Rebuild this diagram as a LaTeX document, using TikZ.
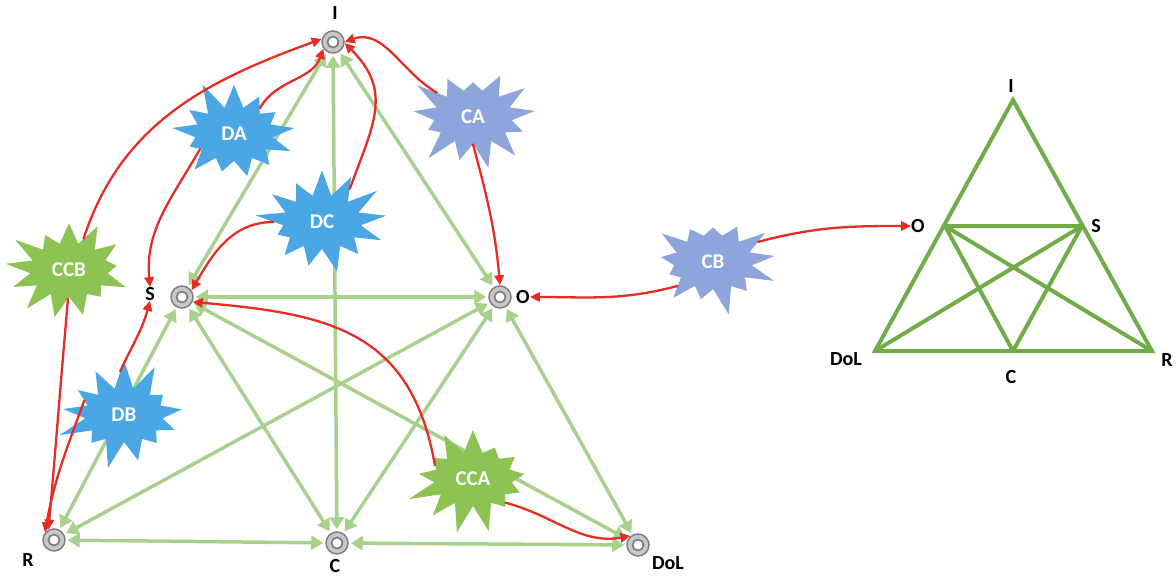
\documentclass[tikz,border=0pt]{standalone}
\usepackage{fontspec}
\setmainfont{Carlito}
\usepackage{xcolor}
\usepackage{tikz}
\usetikzlibrary{shapes.symbols, arrows.meta}
\definecolor{linkgreen}{RGB}{169,209,142}
\definecolor{trigreen}{RGB}{112,173,71}
\definecolor{flowred}{RGB}{229,45,38}
\definecolor{dblue}{RGB}{75,166,230}
\definecolor{clav}{RGB}{142,165,219}
\definecolor{cgreen}{RGB}{140,195,82}
\definecolor{ringgray}{RGB}{200,200,200}
\definecolor{ringedge}{RGB}{128,128,128}
\tikzstyle{ring} = [circle, draw=ringedge, fill=ringgray, line width=1.5pt, minimum size=22pt, inner sep=0pt,
  path picture={\draw[ringedge, fill=white, line width=1.8pt] (path picture bounding box.center) circle (5.5pt);}]
\tikzstyle{lbl} = [font=\bfseries\fontsize{20}{20}\selectfont, inner sep=0pt]
\tikzstyle{link} = [linkgreen, line width=3.5pt, {Triangle[length=12pt,width=14pt]}-{Triangle[length=12pt,width=14pt]}, shorten <=2pt, shorten >=2pt]
\tikzstyle{flow} = [flowred, line width=2.3pt, -{Triangle[length=10pt,width=9.5pt]}]
\tikzstyle{burst} = [starburst, starburst points=13, starburst point height=30pt, inner sep=0pt,
  text=white, font=\bfseries\fontsize{21}{21}\selectfont, minimum width=138pt, minimum height=114pt]
\tikzstyle{tri} = [trigreen, line width=4pt, line join=miter]

\begin{document}
\begin{tikzpicture}[x=1pt,y=1pt,line cap=round]
\useasboundingbox (0,0) rectangle (1176,-578);

\node[ring] (I) at (333,-42) {};
\node[ring] (S) at (182,-297) {};
\node[ring] (O) at (500,-297) {};
\node[ring] (R) at (54,-540) {};
\node[ring] (C) at (337,-543) {};
\node[ring] (DoL) at (638,-545) {};

\node[lbl] (Ilbl) at (335,-13) {I};
\node[lbl] (Slbl) at (150,-294) {S};
\node[lbl] (Olbl) at (523,-297) {O};
\node[lbl] (Rlbl) at (28,-560) {R};
\node[lbl] (Clbl) at (335,-566) {C};
\node[lbl] (DoLlbl) at (668,-563) {DoL};

\foreach \a/\b in {I/S, I/C, I/O, S/O, S/C, S/DoL, S/R, O/R, O/C, O/DoL, R/C, C/DoL}
  \draw[link] (\a) -- (\b);

\node[burst, fill=dblue, random starburst=11] (DA) at (234,-134) {DA};
\node[burst, fill=clav, random starburst=23] (CA) at (473,-117) {CA};
\node[burst, fill=dblue, random starburst=37] (DC) at (322,-222) {DC};
\node[burst, fill=cgreen, random starburst=41] (CCB) at (69,-270) {CCB};
\node[burst, fill=dblue, random starburst=53] (DB) at (124,-415) {DB};
\node[burst, fill=cgreen, random starburst=67] (CCA) at (473,-479) {CCA};
\node[burst, fill=clav, random starburst=79] (CB) at (713,-262) {CB};

\draw[flow] (CCB.65) to[out=72,in=200] (I.165);
\draw[flow] (CCB.268) to[out=265,in=85] (R.118);
\draw[flow] (DB.160) to[out=250,in=80] (R.140);
\draw[flow] (DB.95) to[out=65,in=255,shorten >=8pt] (Slbl.south);
\draw[flow] (DA.45) to[out=60,in=250] (I.215);
\draw[flow] (DA.204) to[out=240,in=95] (Slbl.north);
\draw[flow] (DC.50) to[out=70,in=-45,looseness=1.2] (I.-5);
\draw[flow] (DC.180) to[out=180,in=60] (S.35);
\draw[flow] (CA.146) to[out=150,in=20] (I.0);
\draw[flow] (CA.-90) to[out=-75,in=95] (O.north);
\draw[flow] (CCA.160) to[out=100,in=-5,looseness=1.2] (S.-25);
\draw[flow] (CCA.-36) to[out=-15,in=190] (DoL.130);
\draw[flow] (CB.214) to[out=195,in=0,shorten >=22pt] (Olbl.east);

\coordinate (tI) at (1013,-100);
\coordinate (tO) at (945,-226);
\coordinate (tS) at (1082,-226);
\coordinate (tDoL) at (875,-351);
\coordinate (tC) at (1013,-351);
\coordinate (tR) at (1152,-351);
\node[lbl] (tIlbl) at (1011,-86) {I};
\node[lbl] (tOlbl) at (918,-226) {O};
\node[lbl] (tSlbl) at (1096,-226) {S};
\node[lbl] (tDoLlbl) at (846,-359) {DoL};
\node[lbl] (tRlbl) at (1167,-360) {R};
\node[lbl] (tClbl) at (1011,-377) {C};

\draw[tri] (tI) -- (tR) -- (tDoL) -- cycle;
\draw[tri] (tO) -- (tS) (tO) -- (tC) (tO) -- (tR) (tS) -- (tDoL) (tS) -- (tC);

\draw[flow] (CB.24) to[out=15,in=180,shorten >=12pt] (tOlbl.west);
\end{tikzpicture}
\end{document}
